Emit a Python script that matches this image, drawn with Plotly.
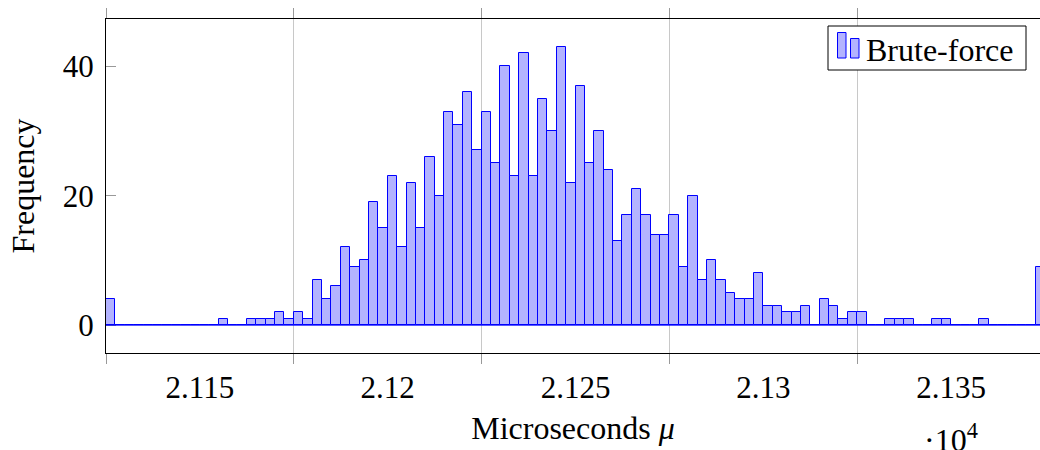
import plotly.graph_objects as go

# ---- data (histogram: 100 bins of 2.5 microseconds starting at 21150) ----
bin_start = 21150.0
bin_width = 2.5
counts = [
    4, 0, 0, 0, 0, 0, 0, 0, 0, 0,
    0, 0, 1, 0, 0, 1, 1, 1, 2, 1,
    2, 1, 7, 4, 6, 12, 9, 10, 19, 15,
    23, 12, 22, 15, 26, 20, 33, 31, 36, 27,
    33, 25, 40, 23, 42, 23, 35, 30, 43, 22,
    37, 25, 30, 24, 13, 17, 21, 17, 14, 14,
    17, 9, 20, 7, 10, 7, 5, 4, 4, 8,
    3, 3, 2, 2, 3, 0, 4, 3, 1, 2,
    2, 0, 0, 1, 1, 1, 0, 0, 1, 1,
    0, 0, 0, 1, 0, 0, 0, 0, 0, 9,
]
series_name = "Brute-force"
grid_ticks = [21150, 21200, 21250, 21300, 21350, 21400]
label_positions = [21175, 21225, 21275, 21325, 21375]
tick_labels = ["2.115", "2.12", "2.125", "2.13", "2.135"]
y_ticks = [0, 20, 40]

centers = [bin_start + bin_width * (i + 0.5) for i in range(len(counts))]
x_end = bin_start + bin_width * len(counts)
x_range = [bin_start, 21398.65]
y_range = [-4.3, 47.3]

FONT = "Liberation Serif"
FS = 32
TFS = 31
FILL = "#b3b3ff"
EDGE = "#0000ff"

# plot area in pixels (for legend placement in paper coords)
L, R, T, B = 106, 1040, 19, 353
def px(xp):
    return (xp - L) / (R - L)
def py(yp):
    return (B - yp) / (B - T)

fig = go.Figure()
fig.add_trace(go.Bar(
    x=centers, y=counts, width=bin_width, name=series_name,
    marker=dict(color=FILL, line=dict(color=EDGE, width=1)),
    showlegend=False,
))

shapes = [
    # baseline of empty bins
    dict(type="line", xref="x", yref="y", x0=bin_start, x1=x_end, y0=0, y1=0,
         line=dict(color=EDGE, width=1)),
    # legend box
    dict(type="rect", xref="paper", yref="paper", x0=px(828), x1=px(1026), y0=py(70), y1=py(26),
         fillcolor="white", line=dict(color="black", width=1), layer="above"),
    # legend icon (two bars)
    dict(type="rect", xref="paper", yref="paper", x0=px(837.5), x1=px(846), y0=py(58), y1=py(32.5),
         fillcolor=FILL, line=dict(color=EDGE, width=1), layer="above"),
    dict(type="rect", xref="paper", yref="paper", x0=px(850.5), x1=px(859), y0=py(58), y1=py(38.5),
         fillcolor=FILL, line=dict(color=EDGE, width=1), layer="above"),
]

fig.update_layout(
    width=1040, height=450,
    margin=dict(l=L, r=1040 - R, t=T, b=450 - B),
    plot_bgcolor="white", paper_bgcolor="white",
    font=dict(family=FONT, size=FS, color="black"),
    bargap=0,
    showlegend=False,
    xaxis=dict(
        range=x_range, tickvals=label_positions, ticktext=tick_labels, ticks="",
        showgrid=False,
        minor=dict(tickvals=grid_ticks, ticks="outside", ticklen=10, tickcolor="#999999",
                   tickwidth=1, showgrid=True, gridcolor="#c8c8c8", gridwidth=1),
        showline=True, linecolor="black", linewidth=1, mirror="allticks",
        zeroline=False, ticklabelstandoff=7,
        tickfont=dict(family=FONT, size=TFS),
        title=dict(text="Microseconds <i>μ</i>", font=dict(family=FONT, size=FS), standoff=12),
    ),
    yaxis=dict(
        range=y_range, tickvals=y_ticks, ticks="inside", ticklen=10,
        tickcolor="#999999", showgrid=False, zeroline=False,
        showline=True, linecolor="black", linewidth=1,
        tickfont=dict(family=FONT, size=TFS), ticklabelstandoff=5,
        title=dict(text="Frequency", font=dict(family=FONT, size=FS), standoff=18),
    ),
    shapes=shapes,
    annotations=[
        dict(text=series_name, xref="paper", yref="paper", x=px(864), y=py(50),
             xanchor="left", yanchor="middle", showarrow=False,
             font=dict(family=FONT, size=FS)),
        dict(text="·10<sup>4</sup>", xref="paper", yref="paper",
             x=px(951), y=py(416), xanchor="center", yanchor="top",
             showarrow=False, font=dict(family=FONT, size=FS)),
    ],
)

fig.write_html("out.html")
